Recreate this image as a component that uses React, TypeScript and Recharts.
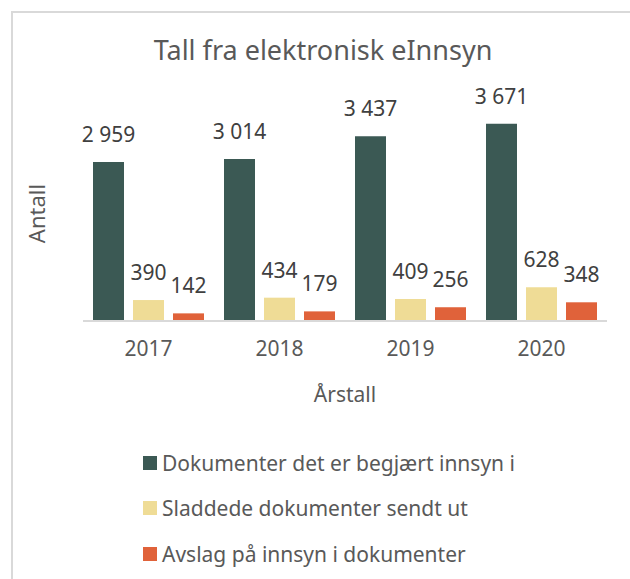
import React from "react";
import { Bar, BarChart, LabelList, XAxis, YAxis } from "recharts";

const years = ["2017", "2018", "2019", "2020"];
const requested = [2959, 3014, 3437, 3671];
const redacted = [390, 434, 409, 628];
const refused = [142, 179, 256, 348];

const seriesNames = [
  "Dokumenter det er begjært innsyn i",
  "Sladdede dokumenter sendt ut",
  "Avslag på innsyn i dokumenter",
];
const seriesColors = ["#3b5954", "#efdc96", "#e0623a"];

const chartData = years.map((year, i) => ({
  year,
  requested: requested[i],
  redacted: redacted[i],
  refused: refused[i],
}));
const keys = ["requested", "redacted", "refused"];

const font = "'Noto Sans', 'Open Sans', sans-serif";
// thousands with a non-breaking space so the label stays on one line
const fmt = (v: number) => v.toLocaleString("en-US").replace(/,/g, "\u00a0");

export default function App() {
  return (
    <div
      style={{
        position: "fixed",
        left: 0,
        top: 0,
        width: 630,
        height: 579,
        overflow: "hidden",
        background: "#fff",
        fontFamily: font,
      }}
    >
      <div
        style={{
          position: "absolute",
          left: 11,
          top: 11,
          width: 700,
          height: 700,
          border: "2px solid #d9d9d9",
        }}
      />
      <div
        style={{
          position: "absolute",
          left: 0,
          width: 646,
          top: 31,
          textAlign: "center",
          fontSize: 27,
          color: "#595959",
        }}
      >
        Tall fra elektronisk eInnsyn
      </div>
      <div style={{ position: "absolute", left: 0, top: 0 }}>
        <BarChart
          width={630}
          height={410}
          data={chartData}
          margin={{ top: 106, right: 23, left: 0, bottom: 0 }}
          barCategoryGap={10}
          barGap={9}
          barSize={31}
        >
          <XAxis
            dataKey="year"
            axisLine={{ stroke: "#d9d9d9", strokeWidth: 2 }}
            tickLine={false}
            tick={{ fill: "#595959", fontSize: 21, fontFamily: font }}
            tickMargin={14}
            height={89}
            label={{
              value: "Årstall",
              position: "insideBottom",
              offset: 8,
              fill: "#595959",
              fontSize: 21,
              fontFamily: font,
            }}
          />
          <YAxis
            width={83}
            domain={[0, 4000]}
            axisLine={false}
            tickLine={false}
            tick={false}
            label={{
              value: "Antall",
              angle: -90,
              position: "insideLeft",
              offset: 37,
              fill: "#595959",
              fontSize: 22,
              fontFamily: font,
              style: { textAnchor: "middle" },
            }}
          />
          {keys.map((k, i) => (
            <Bar key={k} dataKey={k} fill={seriesColors[i]} isAnimationActive={false}>
              <LabelList
                dataKey={k}
                position="top"
                offset={20}
                formatter={(v: any) => fmt(Number(v))}
                style={{ fill: "#404040", fontSize: 21, fontFamily: font }}
              />
            </Bar>
          ))}
        </BarChart>
      </div>
      <div style={{ position: "absolute", left: 143, top: 440 }}>
        {seriesNames.map((name, i) => (
          <div
            key={name}
            style={{
              display: "flex",
              alignItems: "center",
              height: 45.5,
              fontSize: 21,
              color: "#595959",
            }}
          >
            <span
              style={{
                display: "inline-block",
                width: 14,
                height: 14,
                background: seriesColors[i],
                marginRight: 5,
              }}
            />
            {name}
          </div>
        ))}
      </div>
    </div>
  );
}
